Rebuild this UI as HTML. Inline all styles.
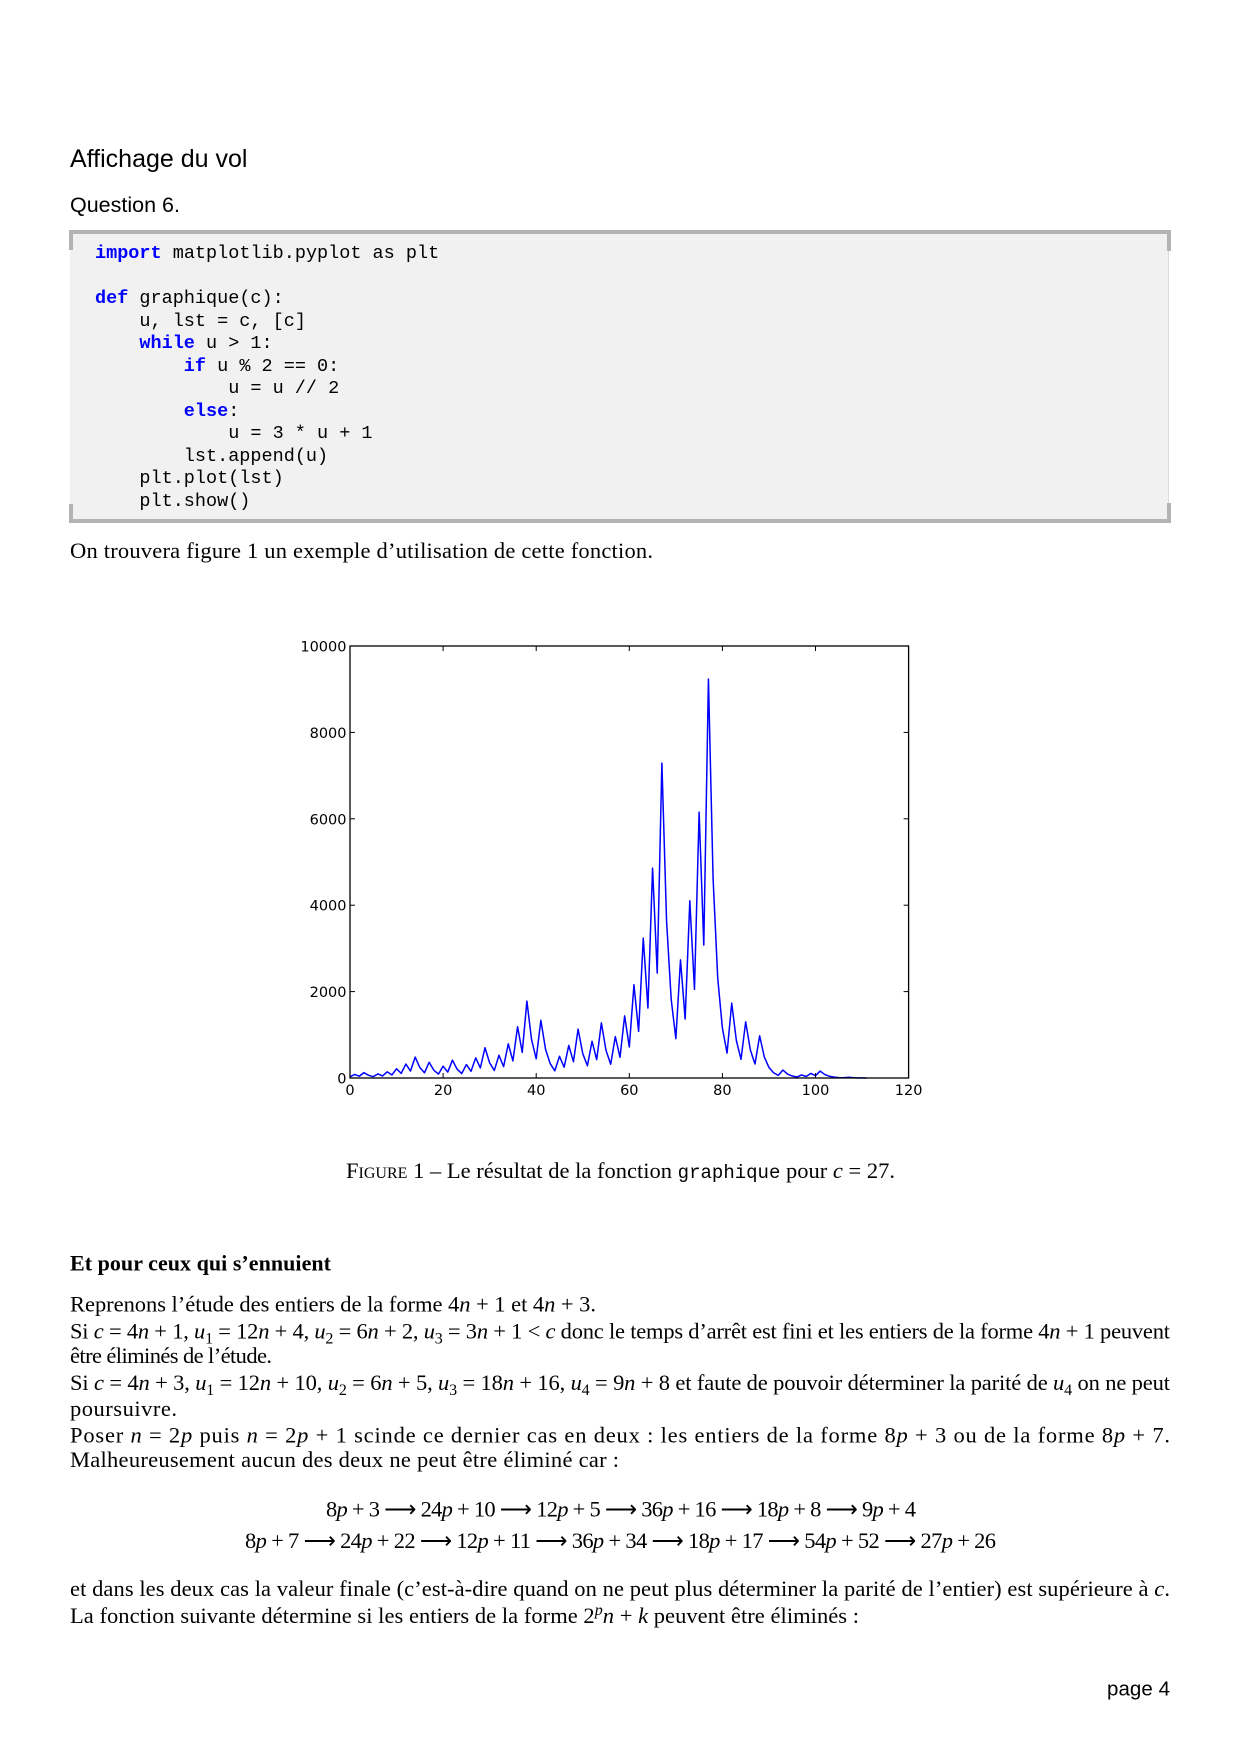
<!DOCTYPE html>
<html>
<head>
<meta charset="utf-8">
<style>
html,body{margin:0;padding:0;background:#fff;}
svg{display:block;white-space:pre;}
.serif{font-family:"Liberation Serif",serif;}
.sans{font-family:"Liberation Sans",sans-serif;}
.mono{font-family:"Liberation Mono",monospace;}
.kw{fill:#0000ff;font-weight:bold;}
.it{font-style:italic;}
</style>
</head>
<body>
<svg width="1240" height="1754" viewBox="0 0 1240 1754" xmlns="http://www.w3.org/2000/svg">
<rect x="0" y="0" width="1240" height="1754" fill="#ffffff"/>

<!-- Headings -->
<text class="sans" x="70" y="167" font-size="25" fill="#000">Affichage du vol</text>
<text class="sans" x="70" y="212" font-size="21.5" fill="#000">Question 6.</text>

<!-- Code box -->
<rect x="70" y="230" width="1099" height="293" fill="#f1f1f1"/>
<rect x="1168" y="234" width="1" height="285" fill="#dcdcdc"/>
<rect x="69" y="230" width="1102" height="4" fill="#b3b3b3"/>
<rect x="69" y="519" width="1102" height="4" fill="#b3b3b3"/>
<rect x="69" y="230" width="4" height="20" fill="#b3b3b3"/>
<rect x="69" y="504" width="4" height="19" fill="#b3b3b3"/>
<rect x="1167" y="230" width="4" height="21" fill="#b3b3b3"/>
<rect x="1167" y="503" width="4" height="20" fill="#b3b3b3"/>

<g class="mono" font-size="18.5" fill="#000">
<text x="95" y="258"><tspan class="kw">import</tspan> matplotlib.pyplot as plt</text>
<text x="95" y="303"><tspan class="kw">def</tspan> graphique(c):</text>
<text x="139.4" y="326">u, lst = c, [c]</text>
<text x="139.4" y="348"><tspan class="kw">while</tspan> u &gt; 1:</text>
<text x="183.8" y="371"><tspan class="kw">if</tspan> u % 2 == 0:</text>
<text x="228.2" y="393">u = u // 2</text>
<text x="183.8" y="416"><tspan class="kw">else</tspan>:</text>
<text x="228.2" y="438">u = 3 * u + 1</text>
<text x="183.8" y="461">lst.append(u)</text>
<text x="139.4" y="483">plt.plot(lst)</text>
<text x="139.4" y="506">plt.show()</text>
</g>

<text class="serif" x="70" y="558" font-size="22.5" textLength="583" lengthAdjust="spacing">On trouvera figure 1 un exemple d’utilisation de cette fonction.</text>

<!-- Chart -->
<g>
  <rect x="350" y="646" width="558.6" height="432" fill="#fff" stroke="none"/>
  <polyline fill="none" stroke="#0000ff" stroke-width="1.5" stroke-linejoin="round" vector-effect="non-scaling-stroke"
    transform="translate(350,1078) scale(4.655,-0.0432)"
    points="0,27 1,82 2,41 3,124 4,62 5,31 6,94 7,47 8,142 9,71 10,214 11,107 12,322 13,161 14,484 15,242 16,121 17,364 18,182 19,91 20,274 21,137 22,412 23,206 24,103 25,310 26,155 27,466 28,233 29,700 30,350 31,175 32,526 33,263 34,790 35,395 36,1186 37,593 38,1780 39,890 40,445 41,1336 42,668 43,334 44,167 45,502 46,251 47,754 48,377 49,1132 50,566 51,283 52,850 53,425 54,1276 55,638 56,319 57,958 58,479 59,1438 60,719 61,2158 62,1079 63,3238 64,1619 65,4858 66,2429 67,7288 68,3644 69,1822 70,911 71,2734 72,1367 73,4102 74,2051 75,6154 76,3077 77,9232 78,4616 79,2308 80,1154 81,577 82,1732 83,866 84,433 85,1300 86,650 87,325 88,976 89,488 90,244 91,122 92,61 93,184 94,92 95,46 96,23 97,70 98,35 99,106 100,53 101,160 102,80 103,40 104,20 105,10 106,5 107,16 108,8 109,4 110,2 111,1"/>
  <rect x="350" y="646" width="558.6" height="432" fill="none" stroke="#000" stroke-width="1.3"/>
  <!-- x ticks -->
  <g stroke="#000" stroke-width="1">
    <line x1="443.1" y1="1078" x2="443.1" y2="1073"/>
    <line x1="536.2" y1="1078" x2="536.2" y2="1073"/>
    <line x1="629.3" y1="1078" x2="629.3" y2="1073"/>
    <line x1="722.4" y1="1078" x2="722.4" y2="1073"/>
    <line x1="815.5" y1="1078" x2="815.5" y2="1073"/>
    <line x1="443.1" y1="646" x2="443.1" y2="651"/>
    <line x1="536.2" y1="646" x2="536.2" y2="651"/>
    <line x1="629.3" y1="646" x2="629.3" y2="651"/>
    <line x1="722.4" y1="646" x2="722.4" y2="651"/>
    <line x1="815.5" y1="646" x2="815.5" y2="651"/>
    <!-- y ticks -->
    <line x1="350" y1="991.6" x2="355" y2="991.6"/>
    <line x1="350" y1="905.2" x2="355" y2="905.2"/>
    <line x1="350" y1="818.8" x2="355" y2="818.8"/>
    <line x1="350" y1="732.4" x2="355" y2="732.4"/>
    <line x1="908.6" y1="991.6" x2="903.6" y2="991.6"/>
    <line x1="908.6" y1="905.2" x2="903.6" y2="905.2"/>
    <line x1="908.6" y1="818.8" x2="903.6" y2="818.8"/>
    <line x1="908.6" y1="732.4" x2="903.6" y2="732.4"/>
  </g>
  <g font-family="DejaVu Sans, sans-serif" font-size="14.5" fill="#000">
    <g text-anchor="end">
      <text x="346.5" y="651.5">10000</text>
      <text x="346.5" y="737.9">8000</text>
      <text x="346.5" y="824.3">6000</text>
      <text x="346.5" y="910.7">4000</text>
      <text x="346.5" y="997.1">2000</text>
      <text x="346.5" y="1083.5">0</text>
    </g>
    <g text-anchor="middle">
      <text x="350" y="1095">0</text>
      <text x="443.1" y="1095">20</text>
      <text x="536.2" y="1095">40</text>
      <text x="629.3" y="1095">60</text>
      <text x="722.4" y="1095">80</text>
      <text x="815.5" y="1095">100</text>
      <text x="908.6" y="1095">120</text>
    </g>
  </g>
</g>

<!-- Caption -->
<text class="serif" x="346" y="1178" font-size="22.5" textLength="549" lengthAdjust="spacing"><tspan style="font-variant:small-caps">Figure</tspan> 1 – Le résultat de la fonction <tspan class="mono" font-size="19">graphique</tspan> pour <tspan class="it">c</tspan> = 27.</text>

<!-- Section -->
<text class="serif" x="70" y="1270.5" font-size="22" font-weight="bold" textLength="261" lengthAdjust="spacing">Et pour ceux qui s’ennuient</text>

<g class="serif" font-size="22.5" fill="#000">
<text x="70" y="1311.5" textLength="526" lengthAdjust="spacing">Reprenons l’étude des entiers de la forme 4<tspan class="it">n</tspan> + 1 et 4<tspan class="it">n</tspan> + 3.</text>
<text x="70" y="1338.5" textLength="1100" lengthAdjust="spacing">Si <tspan class="it">c</tspan> = 4<tspan class="it">n</tspan> + 1, <tspan class="it">u</tspan><tspan font-size="16" baseline-shift="-5">1</tspan> = 12<tspan class="it">n</tspan> + 4, <tspan class="it">u</tspan><tspan font-size="16" baseline-shift="-5">2</tspan> = 6<tspan class="it">n</tspan> + 2, <tspan class="it">u</tspan><tspan font-size="16" baseline-shift="-5">3</tspan> = 3<tspan class="it">n</tspan> + 1 &lt; <tspan class="it">c</tspan> donc le temps d’arrêt est fini et les entiers de la forme 4<tspan class="it">n</tspan> + 1 peuvent</text>
<text x="70" y="1363" textLength="202" lengthAdjust="spacing">être éliminés de l’étude.</text>
<text x="70" y="1390" textLength="1100" lengthAdjust="spacing">Si <tspan class="it">c</tspan> = 4<tspan class="it">n</tspan> + 3, <tspan class="it">u</tspan><tspan font-size="16" baseline-shift="-5">1</tspan> = 12<tspan class="it">n</tspan> + 10, <tspan class="it">u</tspan><tspan font-size="16" baseline-shift="-5">2</tspan> = 6<tspan class="it">n</tspan> + 5, <tspan class="it">u</tspan><tspan font-size="16" baseline-shift="-5">3</tspan> = 18<tspan class="it">n</tspan> + 16, <tspan class="it">u</tspan><tspan font-size="16" baseline-shift="-5">4</tspan> = 9<tspan class="it">n</tspan> + 8 et faute de pouvoir déterminer la parité de <tspan class="it">u</tspan><tspan font-size="16" baseline-shift="-5">4</tspan> on ne peut</text>
<text x="70" y="1416" textLength="107" lengthAdjust="spacing">poursuivre.</text>
<text x="70" y="1442.5" textLength="1100" lengthAdjust="spacing">Poser <tspan class="it">n</tspan>  =  2<tspan class="it">p</tspan> puis <tspan class="it">n</tspan>  =  2<tspan class="it">p</tspan> + 1 scinde ce dernier cas en deux : les entiers de la forme 8<tspan class="it">p</tspan> + 3 ou de la forme 8<tspan class="it">p</tspan> + 7.</text>
<text x="70" y="1467" textLength="549" lengthAdjust="spacing">Malheureusement aucun des deux ne peut être éliminé car :</text>

<text x="326" y="1516.5" textLength="590" lengthAdjust="spacing">8<tspan class="it">p</tspan> + 3 ⟶ 24<tspan class="it">p</tspan> + 10 ⟶ 12<tspan class="it">p</tspan> + 5 ⟶ 36<tspan class="it">p</tspan> + 16 ⟶ 18<tspan class="it">p</tspan> + 8 ⟶ 9<tspan class="it">p</tspan> + 4</text>
<text x="245" y="1548" textLength="751" lengthAdjust="spacing">8<tspan class="it">p</tspan> + 7 ⟶ 24<tspan class="it">p</tspan> + 22 ⟶ 12<tspan class="it">p</tspan> + 11 ⟶ 36<tspan class="it">p</tspan> + 34 ⟶ 18<tspan class="it">p</tspan> + 17 ⟶ 54<tspan class="it">p</tspan> + 52 ⟶ 27<tspan class="it">p</tspan> + 26</text>

<text x="70" y="1596" textLength="1100" lengthAdjust="spacing">et dans les deux cas la valeur finale (c’est-à-dire quand on ne peut plus déterminer la parité de l’entier) est supérieure à <tspan class="it">c</tspan>.</text>
<text x="70" y="1623" textLength="789" lengthAdjust="spacing">La fonction suivante détermine si les entiers de la forme 2<tspan font-size="16" baseline-shift="8" class="it">p</tspan><tspan class="it">n</tspan> + <tspan class="it">k</tspan> peuvent être éliminés :</text>
</g>

<text class="sans" x="1107" y="1695.5" font-size="20.5" fill="#000" textLength="63" lengthAdjust="spacing">page 4</text>
</svg>
</body>
</html>
